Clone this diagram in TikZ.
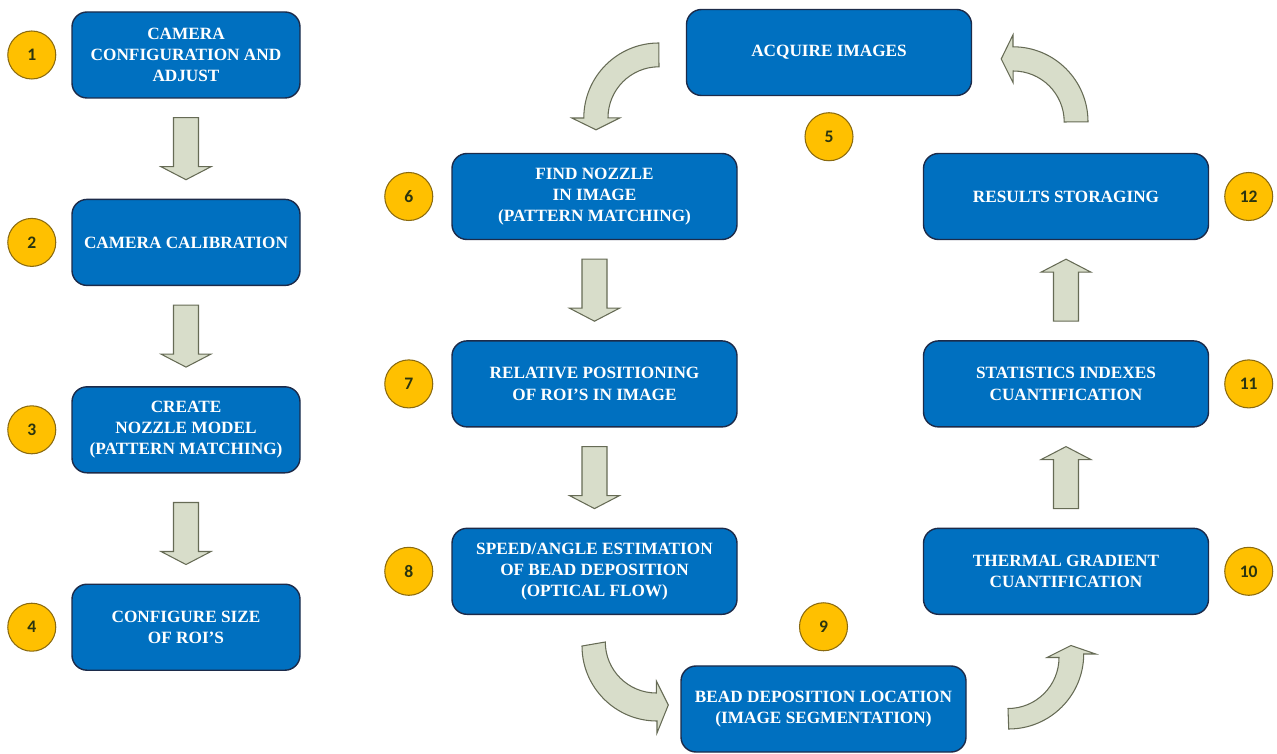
\documentclass[tikz,border=0pt]{standalone}
\usepackage{fontspec}
\setmainfont{Liberation Serif}
\newfontfamily\boxfont{Liberation Serif}
\newfontfamily\numfont{Carlito}
\usetikzlibrary{calc, positioning}
\definecolor{boxblue}{HTML}{0070C0}
\definecolor{boxline}{HTML}{1C2B4A}
\definecolor{arrowfill}{HTML}{D8DDCA}
\definecolor{arrowline}{HTML}{666B55}
\definecolor{numfill}{HTML}{FFC000}
\definecolor{numline}{HTML}{8A6A10}
\definecolor{numtext}{HTML}{2B3510}

\begin{document}
\begin{tikzpicture}[
	node distance=2cm and 3mm,
	box/.style = {draw=boxline, fill=boxblue, text=white, line width=0.8pt,
	              rounded corners=3mm, minimum width=5.7cm, minimum height=1.72cm,
	              align=center, font=\boxfont\bfseries\fontsize{9.8}{12}\selectfont},
	lbox/.style = {box, minimum width=4.56cm},
	num/.style = {circle, draw=numline, fill=numfill, line width=0.6pt,
	              minimum size=0.96cm, inner sep=0pt, text=numtext,
	              font=\numfont\bfseries\fontsize{10}{12}\selectfont},
	blockarrow/.style = {draw=arrowline, fill=arrowfill, line width=0.6pt,
	   to path={($(\tikztostart)!0.38cm!(\tikztotarget)!0.25cm!90:(\tikztotarget)$)
	         -- ($(\tikztotarget)!0.64cm!(\tikztostart)!0.25cm!-90:(\tikztostart)$)
	         -- ($(\tikztotarget)!0.64cm!(\tikztostart)!0.5cm!-90:(\tikztostart)$)
	         -- ($(\tikztotarget)!0.38cm!(\tikztostart)$)
	         -- ($(\tikztotarget)!0.64cm!(\tikztostart)!0.5cm!90:(\tikztostart)$)
	         -- ($(\tikztotarget)!0.64cm!(\tikztostart)!0.25cm!90:(\tikztostart)$)
	         -- ($(\tikztostart)!0.38cm!(\tikztotarget)!0.25cm!-90:(\tikztotarget)$)
	         -- cycle}},
	bentarrow/.style = {draw=arrowline, fill=arrowfill, line width=0.6pt}
     ]
		\useasboundingbox (0,0) rectangle (25.54,-15.08);
%
		\node[lbox] (b1) at (3.72,-1.10) {CAMERA\\ CONFIGURATION AND\\ ADJUST};
		\node[lbox, below=of b1] (b2) {CAMERA CALIBRATION};
		\node[lbox, below=of b2] (b3) {CREATE\\ NOZZLE MODEL\\ (PATTERN MATCHING)};
		\node[lbox, below=2.2cm of b3] (b4) {CONFIGURE SIZE\\ OF ROI’S};
%
		\node[box] (b5) at (16.58,-1.05) {ACQUIRE IMAGES};
		\node[box] (b6) at (11.89,-3.93) {FIND NOZZLE\\ IN IMAGE\\ (PATTERN MATCHING)};
		\node[box, below=of b6] (b7) {RELATIVE POSITIONING\\ OF ROI’S IN IMAGE};
		\node[box, below=of b7] (b8) {SPEED/ANGLE ESTIMATION\\ OF BEAD DEPOSITION\\ (OPTICAL FLOW)};
		\node[box] (b9) at (16.47,-14.18) {BEAD DEPOSITION LOCATION\\ (IMAGE SEGMENTATION)};
		\node[box] (b12) at (21.32,-3.93) {RESULTS STORAGING};
		\node[box, below=of b12] (b11) {STATISTICS INDEXES\\ CUANTIFICATION};
		\node[box, below=of b11] (b10) {THERMAL GRADIENT\\ CUANTIFICATION};
%
		\node[num, left=of b1] (n1) {1};
		\node[num, left=of b2] (n2) {2};
		\node[num, left=of b3] (n3) {3};
		\node[num, left=of b4] (n4) {4};
		\node[num, below=3.2mm of b5] (n5) {5};
		\node[num, left=3.6mm of b6] (n6) {6};
		\node[num, left=3.6mm of b7] (n7) {7};
		\node[num, left=3.6mm of b8] (n8) {8};
		\node[num, above=2.8mm of b9] (n9) {9};
		\node[num, right=of b10] (n10) {10};
		\node[num, right=of b11] (n11) {11};
		\node[num, right=of b12] (n12) {12};
%
		\draw[blockarrow] (b1.south) to (b2.north);
		\draw[blockarrow] (b2.south) to (b3.north);
		\draw[blockarrow] (b3.south) ++(0,-0.2) to (b4.north);
		\draw[blockarrow] (b6.south) to (b7.north);
		\draw[blockarrow] (b7.south) to (b8.north);
		\draw[blockarrow] (b10.north) to (b11.south);
		\draw[blockarrow] (b11.north) to (b12.south);
%
		\draw[bentarrow] ([xshift=-0.54cm,yshift=0.19cm] b5.west)
		arc[start angle=90, end angle=180, radius=1.5cm] -- ++(-0.24,0)
		-- ([xshift=0.03cm,yshift=0.46cm] b6.north) -- ++(0.48,0.24) -- ++(-0.24,0)
		arc[start angle=180, end angle=90, radius=1.02cm] -- cycle;
%
		\draw[bentarrow] ([xshift=-0.25cm,yshift=-0.62cm] b8.south)
		arc[start angle=180, end angle=270, radius=1.5cm] -- ++(0,-0.24)
		-- ([xshift=-0.24cm,yshift=0.08cm] b9.west) -- ++(-0.24,0.48) -- ++(0,-0.24)
		arc[start angle=270, end angle=180, radius=1.02cm] -- cycle;
%
		\draw[bentarrow] ([xshift=0.84cm,yshift=-0.40cm] b9.east)
		arc[start angle=270, end angle=360, radius=1.5cm] -- ++(0.24,0)
		-- ([xshift=0.10cm,yshift=-0.61cm] b10.south) -- ++(-0.48,-0.24) -- ++(0.24,0)
		arc[start angle=0, end angle=-90, radius=1.02cm] -- cycle;
%
		\draw[bentarrow] ([xshift=0.44cm,yshift=0.62cm] b12.north)
		arc[start angle=0, end angle=90, radius=1.5cm] -- ++(0,0.24)
		-- ([xshift=0.58cm,yshift=-0.13cm] b5.east) -- ++(0.24,-0.48) -- ++(0,0.24)
		arc[start angle=90, end angle=0, radius=1.02cm] -- cycle;
\end{tikzpicture}
\end{document}
